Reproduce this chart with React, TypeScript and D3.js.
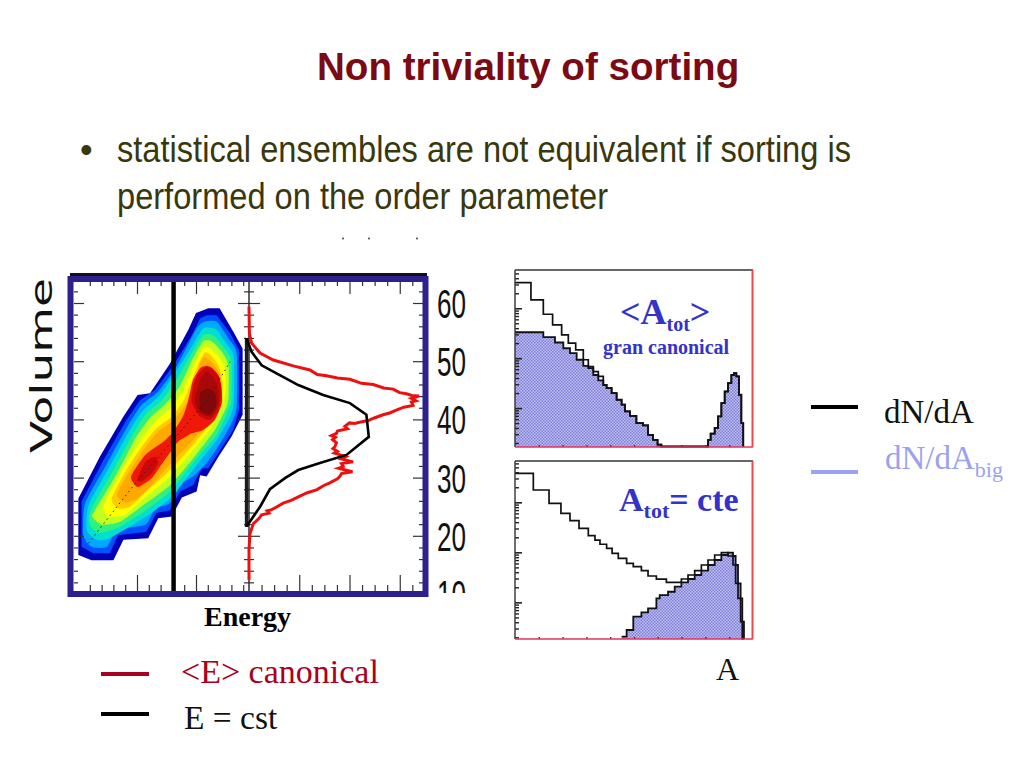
import * as d3 from "d3";
import { useEffect, useRef } from "react";

type Pt = [number, number];

// contour plot, [energy, volume], outermost level first
const contourColors = ["#0000b8", "#0050ff", "#00a8ff", "#00e0d0", "#30f080", "#c0ff20", "#ffff00", "#ffc800", "#ffa800", "#f01808", "#cc0808", "#a80808", "#800808"];
const level1: Pt[] = [[0.06,16.7],[2.3,15.8],[6,15.8],[7.7,19.3],[11.9,19.6],[13.6,23],[15.9,23.3],[17.6,26.6],[20.1,27.6],[20.7,30.4],[21.8,30.2],[23.8,33.6],[26,37],[27.9,40.8],[27.9,52.2],[26.3,55.1],[24,59.1],[22.1,59.1],[20,58.3],[18.7,55.4],[15.6,49.6],[12.2,44.5],[10.1,44.2],[7.7,40.5],[3.7,33.6],[0.06,26.4]];
const level2: Pt[] = [[0.6,18.1],[2.6,17],[5.4,17],[6.8,20.1],[11.6,20.7],[13.3,23.9],[15.6,24.4],[17.3,27.6],[19.5,28.7],[21,31.6],[22.1,31.6],[24.1,34.7],[26.3,38.2],[27.3,41.6],[27.3,51.9],[25.8,54.8],[23.5,57.9],[21.8,57.9],[20.7,57.4],[19.3,54.5],[16.2,49.3],[13.1,45.1],[10.5,43.3],[8.2,39.9],[4.3,33],[0.6,25.9]];
const level3: Pt[] = [[0.9,20.1],[2.3,18.1],[4.9,18.1],[6.6,21],[11.4,21.9],[13.1,24.7],[15.6,25.6],[17.6,29],[19.5,30.2],[21.8,32.5],[24.1,35.9],[26,39.3],[26.9,42.2],[26.9,51.4],[25.5,53.9],[23.5,56.8],[21.5,56.8],[20.1,55.6],[16.7,49.1],[13.6,44.8],[10.8,42.5],[8.5,39],[4.9,32.4],[1.2,25.6]];
const level4: Pt[] = [[1.5,21],[3.2,19.3],[5.4,19.6],[11.1,23],[15.6,26.4],[19.5,31.3],[23.5,36.5],[25.8,40.5],[26.4,42.8],[26.4,50.8],[24.9,53.4],[23.2,55.6],[21.2,55.6],[19.3,52.5],[16.4,47.9],[13.9,44.2],[11.1,41.6],[8.8,38.2],[5.4,31.9],[1.8,25.3]];
const level5: Pt[] = [[1.9,22.1],[3.4,20.5],[6.6,21.3],[11.1,24.1],[15.6,27.6],[19.5,32.5],[23.5,37.3],[25.5,41.6],[26,43.3],[26,50.2],[24.6,52.5],[22.9,54.5],[21.2,54.5],[19.3,51.4],[16.7,46.8],[14.2,43.3],[11.6,41],[9.4,37.6],[6,31.3],[2.3,24.7]];
const level6: Pt[] = [[2.4,23.3],[4,21.9],[7.1,22.4],[11.1,25.3],[15.6,28.7],[19.5,33.3],[23.2,38.2],[25.2,42.2],[25.5,43.9],[25.5,49.3],[24.4,51.6],[22.7,53.4],[21.2,53.4],[19.5,50.5],[17.2,45.6],[14.7,42.5],[12.2,40.2],[9.9,37],[6.6,30.7],[2.9,24.4]];
const level7: Pt[] = [[4.3,24.7],[5.1,23.3],[8,23.6],[11.1,26.4],[15.6,30.2],[19.3,34.5],[22.7,38.8],[24.6,42.8],[25,45.1],[24.9,48.8],[23.8,50.8],[22.4,52.2],[21.2,52.2],[19.8,49.6],[17.6,44.5],[15.3,41.6],[12.8,39.3],[10.5,36.2],[7.7,31.6],[4.9,26.4]];
const level8: Pt[] = [[5.7,26.4],[6.8,24.7],[8.8,25],[11.6,27.6],[15.9,31.6],[19.5,35.6],[22.1,39],[24.1,43],[24.5,45.6],[24.1,48.5],[23.2,50.2],[22.1,51.4],[21.4,51.4],[20.1,48.8],[18.1,43.6],[15.9,40.5],[13.3,38.5],[10.8,35.3],[8.2,31.3]];
const level9: Pt[] = [[6.6,27],[8,25.7],[9.8,26.3],[12.2,28.4],[15.9,32.7],[19.3,36.2],[21.8,39.3],[24,42.8],[24.3,45.9],[23.8,48.2],[22.9,49.6],[21.8,50.5],[21.1,50.5],[20.2,48.2],[18.5,43],[16.2,39.9],[13.6,37.9],[11.1,34.7],[8.5,30.7]];
const level10: Pt[] = [[9,30.2],[10.1,28.4],[12.5,29.9],[13.9,31.9],[15.9,34.7],[17,36.2],[19.3,37.6],[21.2,38.2],[23.2,39.9],[24.4,42.8],[24.3,45.6],[23.8,47.6],[22.8,48.8],[21.8,49.2],[20.7,48.8],[19.5,46.8],[18.7,43.3],[17.9,40.8],[16.4,38.2],[14.5,36.2],[11.4,33.9]];
const level11: Pt[] = [[19.3,42.8],[20.7,40.5],[22.4,39.9],[23.8,41.6],[24.3,44.5],[24,47.1],[22.9,48.5],[21.8,49.1],[20.4,47.9],[19.5,45.6]];
const level11b: Pt[] = [[10.1,29.9],[10.8,29.3],[12.5,30.7],[13.6,32.5],[13.1,33.6],[11.4,32.7]];
const level12: Pt[] = [[19.8,43.3],[20.7,41],[22.7,40.5],[23.8,42.8],[23.8,45.3],[22.9,47.3],[21.8,48.2],[20.7,46.8]];
const level13: Pt[] = [[20.7,44.5],[20.7,41.6],[22.4,40.8],[23.5,42.5],[23.2,44.5],[22.1,45.3]];
const contours = [level1, level2, level3, level4, level5, level6, level7, level8, level9, level10, level11, level12, level13];
const ridge: Pt[] = [[1.75,18.7],[9.7,29],[16.2,36.5],[21.8,43.3],[25.8,49.9]];
const cutEnergy = 16.2;

// projected distributions, [probability, volume]
const canonical: Pt[] = [[0,59.4],[0.2,54.8],[1.3,53.1],[5.5,51.4],[12.1,50.2],[22,49.2],[30.3,48.5],[34,47.7],[38.6,47.5],[44,47.1],[50.2,46.9],[56,46.2],[61.8,46],[67,45.4],[71.7,45.2],[75,44.6],[78.3,44.4],[81,44.1],[84.6,44],[80.8,43.6],[83,43.2],[80.8,43],[81.6,42.4],[77,42.1],[73.3,41.6],[70,41.1],[66.7,40.8],[62,40.2],[59.3,39.8],[55,39.5],[52.6,39.3],[50,39.4],[47.7,38.8],[49,38.4],[44,38],[43.5,37.6],[41,37.2],[43,36.9],[41.6,36.5],[43.5,36],[42.7,35.3],[41.8,35],[44,34.5],[42.5,34.2],[48.2,33.6],[46,33.2],[51.8,32.7],[46,32.4],[46.9,31.9],[44.5,31.6],[51.5,31],[46,30.7],[45.2,30.2],[44,29.8],[40.2,29.1],[37,28.6],[33.6,27.9],[29,27.4],[25.3,26.8],[21,26.1],[17,25.6],[13.5,24.9],[11.3,24.5],[9,24.3],[10,23.9],[6.3,23.6],[5,23],[2.2,22.1],[0.5,20.4],[0,17.6],[0,12.4]];
const fixedEnergy: Pt[] = [[-1.2,53.9],[1.3,51.6],[6.3,49.3],[13.7,47.9],[24.5,45.9],[36.9,44.2],[50.2,42.8],[58.4,40.8],[59.6,37],[48.5,33.9],[35.3,32.5],[24.5,31.3],[17.9,29.9],[10.4,28],[5.5,25],[-1.2,21.6]];
const thickVolumes = [21.5, 54];
const volumeLabels = [60, 50, 40, 30, 20, 10];

// histograms: bin left edges and counts, last edge closes the step
const topAllEdges = [0,6.7,11.9,15.8,19.6,22.4,25.5,28.7,30.8,32.9,35,37.1,38.5,40.6,42.7,44.8,46.2,48.3,51,53.8,55.9,58,59.9,61.5,81.1,82.2,83.9,85.3,86.7,88.1,89.5,90.9,92,93,94.1,95.1,95.9];
const topAllCounts = [3260,1468,759,464,293,200,147,93,68,54,43,29,25,20,14.7,11.7,8.6,7,5,4.5,2.9,2.3,1.85,1.7,2.3,3.07,4,6.8,12.6,21.5,31.6,46,50,43,18.5,5,1.66];
const topBigEdges = [0,11.9,16.8,20.3,23.1,25.9,28.7,30.8,32.9,35,37.1,38.5,40.6,42.7,44.8,46.2,48.3,51,53.8,55.9,58,59.9,61.5,81.1,82.2,83.9,85.3,86.7,88.1,89.5,90.9,92,93,94.1,95.1,95.9];
const topBigCounts = [331,263,206,158,126,93,70,63,46,36,29,25,20,14.7,11.7,8.6,7,5,4.5,2.9,2.3,1.85,1.7,2.3,3.07,4,6.8,12.6,21.5,31.6,46,50,43,18.5,5,1.66];
const botAllEdges = [0,7.7,14.3,19.3,23.1,26.9,30.8,33.6,35.7,38.5,40.8,43.4,46.9,49.7,53.1,55.9,59.4,63.6,69.9,72.7,75.5,78.3,81.1,83.9,86.7,89.5,91.6,92.7,93.7,94.8,95.5,96.2];
const botAllCounts = [3800,1765,955,602,430,302,215,176,145,120,95.5,76,60,52,43,33.6,29,25,29.3,35.2,43,55.8,70.3,88.5,98.5,84.5,55.8,24,12,4.1,1.85,1.85];
const botBigEdges = [44.8,46.9,49.7,53.1,55.9,59.4,60.8,64.3,67.1,69.9,72.7,75.5,78.3,81.1,83.9,86.7,89.5,91.6,92.7,93.7,94.8,95.5,96.2];
const botBigCounts = [2.06,2.8,5.2,6.3,7.6,12,14,16.3,20.6,25,29.3,35.2,43,55.8,70.3,88.5,98.5,84.5,55.8,24,12,4.1,1.85];

const serif = "'Liberation Serif', serif";
const sans = "'Liberation Sans', sans-serif";
const navy = "#2e1f8e";
const blueText = "#3333cc";
const bodyText = "#38380c";

const App = () => {
  const ref = useRef<SVGSVGElement | null>(null);

  useEffect(() => {
    if (!ref.current) return;
    const svg = d3.select(ref.current);
    svg.selectAll("*").remove();

    svg.append("rect").attr("width", 1024).attr("height", 768).attr("fill", "#fff");

    const defs = svg.append("defs");
    const pattern = defs.append("pattern").attr("id", "stipple").attr("width", 3).attr("height", 3).attr("patternUnits", "userSpaceOnUse");
    pattern.append("rect").attr("width", 3).attr("height", 3).attr("fill", "#c0c0f2");
    pattern.append("rect").attr("width", 1.5).attr("height", 1.5).attr("fill", "#7e7ed8");
    pattern.append("rect").attr("x", 1.5).attr("y", 1.5).attr("width", 1.5).attr("height", 1.5).attr("fill", "#7e7ed8");
    defs.append("clipPath").attr("id", "labelClip").append("rect").attr("x", 430).attr("y", 270).attr("width", 60).attr("height", 323);

    const text = (x: number, y: number, s: string, size: number, fill: string, family = serif, weight = "normal") =>
      svg.append("text").attr("x", x).attr("y", y).attr("font-family", family).attr("font-size", size).attr("font-weight", weight).attr("fill", fill).text(s);

    // title and bullet, the slide font is narrower than Liberation Sans
    text(317, 80, "Non triviality of sorting", 38.6, "#7b0a14", sans, "bold");
    text(80, 162, "•", 36, bodyText, sans);
    text(117, 162, "statistical ensembles are not equivalent if sorting is", 36, bodyText, sans).attr("textLength", 734).attr("lengthAdjust", "spacingAndGlyphs");
    text(117, 209, "performed on the order parameter", 36, bodyText, sans).attr("textLength", 491).attr("lengthAdjust", "spacingAndGlyphs");

    // contour panel
    const xE = d3.scaleLinear().domain([0, 10]).range([78, 137]);
    const yV = d3.scaleLinear().domain([60, 10]).range([303, 594]);
    const xP = d3.scaleLinear().domain([0, 100]).range([249, 450]);

    const jagged = d3.line<Pt>().x((d) => xE(d[0])).y((d) => yV(d[1])).curve(d3.curveLinearClosed);
    const smooth = d3.line<Pt>().x((d) => xE(d[0])).y((d) => yV(d[1])).curve(d3.curveCardinalClosed.tension(0.4));
    contours.forEach((c, i) => {
      svg.append("path").attr("d", (i < 2 ? jagged(c)! : smooth(c)!)).attr("fill", contourColors[i]);
    });
    svg.append("path").attr("d", smooth(level11b)!).attr("fill", contourColors[10]);
    svg.append("path").attr("d", d3.line<Pt>().x((d) => xE(d[0])).y((d) => yV(d[1]))(ridge)!).attr("fill", "none").attr("stroke", "#222").attr("stroke-width", 1).attr("stroke-dasharray", "1.5,3.5");

    const eMajor = [10, 20];
    const eMinor = d3.range(2, 29, 2).filter((e) => e % 10 !== 0);
    const pMajor = [25, 50, 75];
    const pMinor = d3.range(6.25, 88, 6.25).filter((p) => p % 25 !== 0);
    const vMajor = [60, 50, 40, 30, 20];
    const vMinor = d3.range(12, 66, 2).filter((v) => v % 10 !== 0);

    const ticks = (axis: d3.Axis<d3.NumberValue>, vals: number[], size: number, tx: number, ty: number, width = 1.2, color = "#333") => {
      const g = svg.append("g").attr("transform", `translate(${tx},${ty})`).call(axis.tickValues(vals).tickSize(size).tickSizeOuter(0).tickFormat(() => "") as any);
      g.select(".domain").remove();
      g.selectAll(".tick line").attr("stroke", color).attr("stroke-width", width);
    };
    ticks(d3.axisBottom(xE), eMajor, 12, 0, 282);
    ticks(d3.axisBottom(xE), eMinor, 4, 0, 282);
    ticks(d3.axisTop(xE), eMajor, 16, 0, 591);
    ticks(d3.axisTop(xE), eMinor, 6, 0, 591);
    ticks(d3.axisBottom(xP), pMajor, 12, 0, 282);
    ticks(d3.axisBottom(xP), pMinor, 4, 0, 282);
    ticks(d3.axisTop(xP), pMajor, 16, 0, 591);
    ticks(d3.axisTop(xP), pMinor, 6, 0, 591);
    ticks(d3.axisRight(yV), vMajor, 10, 74, 0);
    ticks(d3.axisRight(yV), vMinor, 4, 74, 0);
    ticks(d3.axisLeft(yV), vMajor, 10, 423, 0);
    ticks(d3.axisLeft(yV), vMinor, 4, 423, 0);
    ticks(d3.axisLeft(yV), vMajor, 11, 249, 0);
    ticks(d3.axisLeft(yV), vMinor, 5, 249, 0);
    ticks(d3.axisRight(yV), vMajor, 11, 249, 0);
    ticks(d3.axisRight(yV), vMinor, 5, 249, 0);

    svg.append("line").attr("x1", xP(0)).attr("x2", xP(0)).attr("y1", 282).attr("y2", 591).attr("stroke", "#222").attr("stroke-width", 1.4);

    const lineP = d3.line<Pt>().x((d) => xP(d[0])).y((d) => yV(d[1]));
    svg.append("path").attr("d", lineP(canonical)!).attr("fill", "none").attr("stroke", "#ee1010").attr("stroke-width", 3);
    svg.append("line").attr("x1", xP(-1.2)).attr("x2", xP(-1.2)).attr("y1", yV(thickVolumes[0])).attr("y2", yV(thickVolumes[1])).attr("stroke", "#1c1c1c").attr("stroke-width", 3.5);
    svg.append("path").attr("d", lineP(fixedEnergy)!).attr("fill", "none").attr("stroke", "#000").attr("stroke-width", 2.6);

    svg.append("line").attr("x1", xE(cutEnergy)).attr("x2", xE(cutEnergy)).attr("y1", 279).attr("y2", 593).attr("stroke", "#000").attr("stroke-width", 4.5);
    svg.append("line").attr("x1", 70).attr("x2", 427).attr("y1", 274.5).attr("y2", 274.5).attr("stroke", "#111").attr("stroke-width", 3);
    svg.append("rect").attr("x", 70.5).attr("y", 279).attr("width", 355).attr("height", 315).attr("fill", "none").attr("stroke", navy).attr("stroke-width", 6);

    const labels = svg.append("g").attr("clip-path", "url(#labelClip)");
    volumeLabels.forEach((v) => {
      labels.append("text").attr("x", 437).attr("y", yV(v) + 15).attr("font-family", sans).attr("font-size", 41).attr("fill", "#111").attr("textLength", 29).attr("lengthAdjust", "spacingAndGlyphs").text(v);
    });
    svg.append("text").attr("transform", "translate(51.5,453) rotate(-90)").attr("font-family", "'DejaVu Sans', sans-serif").attr("font-size", 30).attr("fill", "#111").attr("textLength", 175).attr("lengthAdjust", "spacingAndGlyphs").text("Volume");
    text(204, 626, "Energy", 28, "#000", serif, "bold");

    // stray specks left over from clipped text in the source slide
    [343, 369, 417].forEach((x) => svg.append("circle").attr("cx", x).attr("cy", 238.5).attr("r", 0.9).attr("fill", "#333"));

    // histograms
    const xA = d3.scaleLinear().domain([0, 100]).range([515, 753]);
    const panel = (top: number, bottom: number, domain: [number, number], allEdges: number[], allCounts: number[], bigEdges: number[], bigCounts: number[]) => {
      const y = d3.scaleLog().domain(domain).range([bottom, top]);
      const steps = (edges: number[], counts: number[]) =>
        edges.map((e, i) => [e, counts[i]] as Pt);
      const area = d3.area<Pt>().x((d) => xA(d[0])).y0(bottom).y1((d) => y(d[1])).curve(d3.curveStepAfter);
      const line = d3.line<Pt>().x((d) => xA(d[0])).y((d) => y(d[1])).curve(d3.curveStepAfter);
      svg.append("path").attr("d", area(steps(bigEdges, bigCounts))!).attr("fill", "url(#stipple)");
      svg.append("path").attr("d", line(steps(bigEdges, bigCounts))!).attr("fill", "none").attr("stroke", "#111").attr("stroke-width", 1.8);
      svg.append("path").attr("d", line(steps(allEdges, allCounts))!).attr("fill", "none").attr("stroke", "#111").attr("stroke-width", 1.7);
      const all = y.ticks().filter((t) => t <= domain[1] && t >= domain[0]);
      const isMajor = (t: number) => Math.abs(Math.log10(t) - Math.round(Math.log10(t))) < 1e-6;
      ticks(d3.axisRight(y) as any, all.filter(isMajor), 7, 515, 0, 1.6, "#222");
      ticks(d3.axisRight(y) as any, all.filter((t) => !isMajor(t)), 4, 515, 0, 1.4, "#222");
      ticks(d3.axisTop(xA), d3.range(10, 100, 10), 2, 0, bottom, 1.4, "#333");
      svg.append("line").attr("x1", 515).attr("x2", 515).attr("y1", top).attr("y2", bottom).attr("stroke", "#333").attr("stroke-width", 1.4);
      svg.append("line").attr("x1", 515).attr("x2", 753).attr("y1", top).attr("y2", top).attr("stroke", "#333").attr("stroke-width", 1.6);
      svg.append("line").attr("x1", 515).attr("x2", 753).attr("y1", bottom).attr("y2", bottom).attr("stroke", "#e83060").attr("stroke-width", 1.4);
      svg.append("line").attr("x1", 752.5).attr("x2", 752.5).attr("y1", top).attr("y2", top + (bottom - top)).attr("stroke", "#f04848").attr("stroke-width", 2);
    };
    panel(270, 447, [1.66, 5848], topAllEdges, topAllCounts, topBigEdges, topBigCounts);
    panel(461, 639, [1.85, 6700], botAllEdges, botAllCounts, botBigEdges, botBigCounts);

    // panel captions
    const sub = (x: number, y: number, main: string, tail: string, rest: string, size: number, subSize: number, drop: number, fill: string, weight: string) => {
      const t = text(x, y, "", size, fill, serif, weight);
      t.append("tspan").text(main);
      t.append("tspan").attr("dy", drop).attr("font-size", subSize).text(tail);
      t.append("tspan").attr("dy", -drop).text(rest);
    };
    sub(620, 324, "<A", "tot", ">", 36, 20, 7, blueText, "bold");
    text(603, 354, "gran canonical", 20, blueText, serif, "bold");
    sub(619, 511, "A", "tot", "= cte", 34, 22, 7, blueText, "bold");

    // legends
    const key = (x1: number, x2: number, y: number, color: string) =>
      svg.append("line").attr("x1", x1).attr("x2", x2).attr("y1", y).attr("y2", y).attr("stroke", color).attr("stroke-width", 4);
    key(811, 858, 407, "#000");
    text(884, 423, "dN/dA", 33, "#111");
    key(811, 858, 472, "#9aa2f0");
    sub(885, 469, "dN/dA", "big", "", 33, 22, 8, "#9aa2f0", "normal");
    key(101, 149, 674, "#a80020");
    text(181, 683, "<E> canonical", 34, "#a80020");
    key(101, 149, 714, "#000");
    text(184, 729, "E = cst", 33.5, "#111");
    text(716, 680, "A", 32, "#111");
  }, []);

  return <svg ref={ref} width={1024} height={768} style={{ position: "absolute", left: 0, top: 0, display: "block" }} />;
};

export default App;
